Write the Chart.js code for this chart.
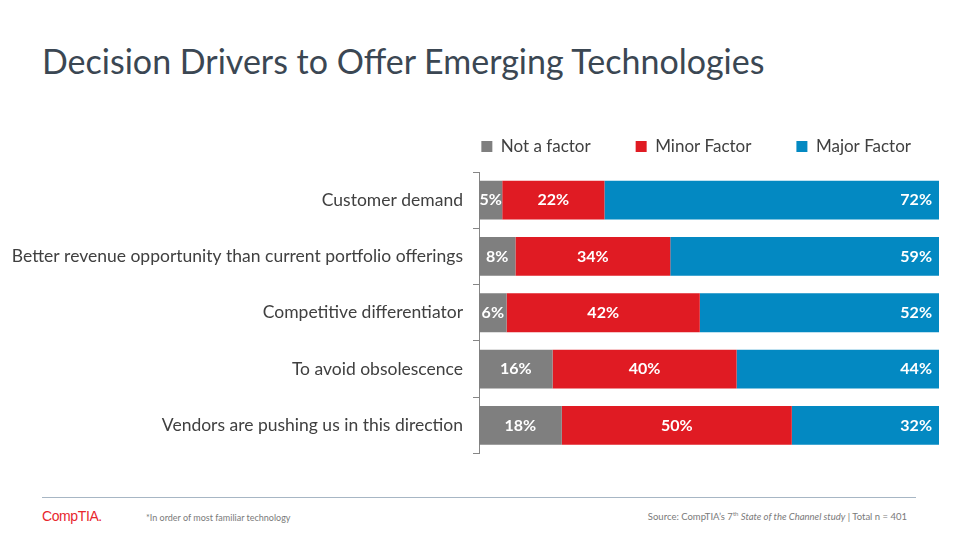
<!DOCTYPE html>
<html>
<head>
<meta charset="utf-8">
<script src="https://cdn.jsdelivr.net/npm/chart.js@4"></script>
<style>
  body { margin: 0; width: 960px; height: 540px; background: #fff; font-family: Lato, sans-serif; position: relative; overflow: hidden; }
  #title { position: absolute; left: 42px; top: 40px; font-size: 34px; color: #3b4753; }
  #wrap { position: absolute; left: 0; top: 100px; width: 960px; height: 374px; }
  #rule { position: absolute; left: 42px; top: 497px; width: 874px; height: 1px; background: #a7b6c4; }
  #logo { position: absolute; left: 42px; top: 508px; font-size: 14px; color: #e8262d; font-family: "Liberation Sans", sans-serif; letter-spacing: -0.4px; }
  #note { position: absolute; left: 146px; top: 512px; font-size: 9px; color: #7a7a7a; }
  #src { position: absolute; right: 53px; top: 510px; font-size: 9.5px; color: #7a7a7a; }
</style>
</head>
<body>
<div id="title">Decision Drivers to Offer Emerging Technologies</div>
<div id="wrap"><canvas id="chart"></canvas></div>
<div id="rule"></div>
<div id="logo">CompTIA.</div>
<div id="note">*In order of most familiar technology</div>
<div id="src">Source: CompTIA’s 7<sup style="font-size:6px">th</sup> <i>State of the Channel study</i> | Total n = 401</div>
<script>
// data
const categories = [
    'Customer demand',
    'Better revenue opportunity than current portfolio offerings',
    'Competitive differentiator',
    'To avoid obsolescence',
    'Vendors are pushing us in this direction'
];
const notAFactor = [5, 8, 6, 16, 18];
const minorFactor = [22, 34, 42, 40, 50];
const majorFactor = [72, 59, 52, 44, 32];

const seriesNames = ['Not a factor', 'Minor Factor', 'Major Factor'];
const seriesColors = ['#7f7f7f', '#e01b23', '#0389c2'];
const rawSeries = [notAFactor, minorFactor, majorFactor];

// bars are 100% stacked, so scale each row by its own total
const totals = categories.map((c, i) => notAFactor[i] + minorFactor[i] + majorFactor[i]);

const ctx = document.getElementById('chart').getContext('2d');

// draw the percent labels inside the bars
const barLabels = {
    id: 'barLabels',
    afterDatasetsDraw(chart) {
        const c = chart.ctx;
        c.save();
        c.fillStyle = '#ffffff';
        c.font = 'bold 16px Lato, sans-serif';
        c.textBaseline = 'middle';
        chart.data.datasets.forEach((ds, di) => {
            chart.getDatasetMeta(di).data.forEach((bar, i) => {
                const txt = rawSeries[di][i] + '%';
                if (di === 2) {
                    c.textAlign = 'right';
                    c.fillText(txt, bar.x - 7, bar.y);
                } else {
                    c.textAlign = 'center';
                    c.fillText(txt, (bar.base + bar.x) / 2, bar.y);
                }
            });
        });
        c.restore();
    }
};

// nudge the legend so it sits over the bars like on the slide
const legendNudge = {
    id: 'legendNudge',
    afterLayout(chart) {
        chart.legend.left += 17;
        chart.legend.right += 17;
        chart.legend.top -= 7;
        chart.legend.bottom -= 7;
    }
};

new Chart(ctx, {
    type: 'bar',
    data: {
        labels: categories,
        datasets: rawSeries.map((vals, k) => ({
            label: seriesNames[k],
            data: vals.map((v, i) => v / totals[i] * 100),
            backgroundColor: seriesColors[k],
            categoryPercentage: 0.69,
            barPercentage: 1
        }))
    },
    options: {
        indexAxis: 'y',
        responsive: true,
        maintainAspectRatio: false,
        animation: false,
        layout: { padding: { left: 0, right: 21, top: 0, bottom: 0 } },
        plugins: {
            legend: {
                position: 'top',
                align: 'end',
                labels: {
                    boxWidth: 11,
                    boxHeight: 11,
                    padding: 45,
                    color: '#404040',
                    font: { family: 'Lato, sans-serif', size: 17 }
                }
            },
            tooltip: { enabled: false }
        },
        scales: {
            x: {
                stacked: true,
                min: 0,
                max: 100,
                display: false
            },
            y: {
                stacked: true,
                afterFit(scale) { scale.width = 479; },
                grid: {
                    drawOnChartArea: false,
                    drawTicks: true,
                    tickLength: 6,
                    color: '#868686',
                    offset: true
                },
                border: { display: true, color: '#868686' },
                ticks: {
                    color: '#404040',
                    padding: 10,
                    font: { family: 'Lato, sans-serif', size: 17.5 }
                }
            }
        }
    },
    plugins: [barLabels, legendNudge]
});
</script>
</body>
</html>
